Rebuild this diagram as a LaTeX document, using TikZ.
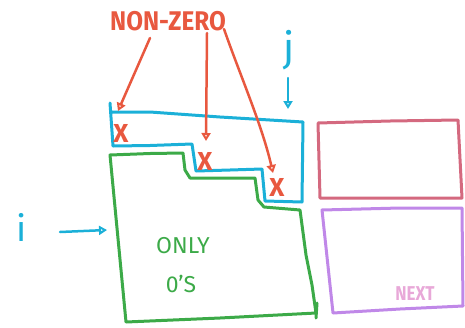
\documentclass[tikz,border=0pt]{standalone}
\usepackage{fontspec}
\setmainfont{Fira Sans}
\usetikzlibrary{arrows.meta}
\definecolor{hred}{HTML}{E8583F}
\definecolor{hblue}{HTML}{1BB0D8}
\definecolor{hgreen}{HTML}{3CAA48}
\definecolor{hrose}{HTML}{D4697F}
\definecolor{hpurple}{HTML}{C088E8}
\definecolor{hpink}{HTML}{E8A8D8}
\begin{document}
\begin{tikzpicture}[x=1pt,y=-1pt,
  pen/.style={line width=3pt,line cap=round,line join=round},
  redpen/.style={pen,draw=hred},
  bluepen/.style={pen,draw=hblue},
  greenpen/.style={pen,draw=hgreen},
  rosepen/.style={pen,draw=hrose},
  purplepen/.style={pen,draw=hpurple},
  tip/.style={-{Triangle[open,length=8pt,width=9pt]}},
  lbl/.style={inner sep=0pt,font=\fontsize{24}{24}\selectfont}
]
\useasboundingbox (0,0) rectangle (465,327);

% blue staircase band
\draw[bluepen] (110,103) -- (113,146) -- (150,145.5) -- (192,144) -- (196,171)
  -- (230,170) -- (262,169) -- (265,201) -- (302,202) -- (303,122)
  -- (220,117) -- (150,112) -- (111,112);

% green region
\draw[greenpen] (110,155) -- (150,153.5) -- (183,153) -- (185,170) -- (190,178)
  -- (255,178) -- (258,200) -- (264,207) -- (300,210) -- (306,255)
  -- (312,285) -- (316,313) -- (220,318) -- (126,322) -- cycle;
\draw[greenpen] (317,303) -- (316,318);

% rose rectangle
\draw[rosepen] (318,123) -- (390,121) -- (458,120) -- (462,198)
  -- (390,198) -- (320,198) -- cycle;

% purple rectangle
\draw[purplepen] (322,210) -- (400,208) -- (462,208) -- (463,306)
  -- (400,309) -- (333,313) -- cycle;

% labels
\node[lbl,text=hred,font=\fontsize{27}{27}\selectfont\bfseries,xscale=0.9] (nz) at (168,21) {NON-ZERO};
\node[lbl,text=hred,font=\fontsize{26}{26}\selectfont\bfseries] (x1) at (121,133) {X};
\node[lbl,text=hred,font=\fontsize{26}{26}\selectfont\bfseries] (x2) at (205,161) {X};
\node[lbl,text=hred,font=\fontsize{26}{26}\selectfont\bfseries] (x3) at (277,187) {X};
\node[lbl,text=hblue,font=\fontsize{40}{40}\selectfont] (j) at (289,50) {j};
\node[lbl,text=hblue,font=\fontsize{36}{36}\selectfont] (i) at (22,227) {i};
\node[lbl,text=hgreen,font=\fontsize{23}{23}\selectfont] (only) at (183,246) {ONLY};
\node[lbl,text=hgreen,font=\fontsize{23}{23}\selectfont] (zeros) at (181,284) {0'S};
\node[lbl,text=hpink,font=\fontsize{20}{20}\selectfont\bfseries,xscale=0.85] (next) at (415,294) {NEXT};

% arrow ends
\coordinate (a1s) at (150,38);
\coordinate (a1e) at (118,111);
\coordinate (a2s) at (207,33);
\coordinate (a2e) at (206,141);
\coordinate (a3s) at (224,29);
\coordinate (a3e) at (273,173);
\coordinate (js) at (288,78);
\coordinate (je) at (288,109);
\coordinate (is) at (60,232);
\coordinate (ie) at (107,230);

\draw[redpen,line width=2.5pt,tip] (a1s) -- (a1e);
\draw[redpen,line width=2.5pt,tip] (a2s) -- (a2e);
\draw[redpen,line width=2.5pt,tip] (a3s) .. controls (240,75) and (262,125) .. (a3e);
\draw[bluepen,line width=2.5pt,tip] (js) -- (je);
\draw[bluepen,line width=2.5pt,tip] (is) -- (ie);
\end{tikzpicture}
\end{document}
